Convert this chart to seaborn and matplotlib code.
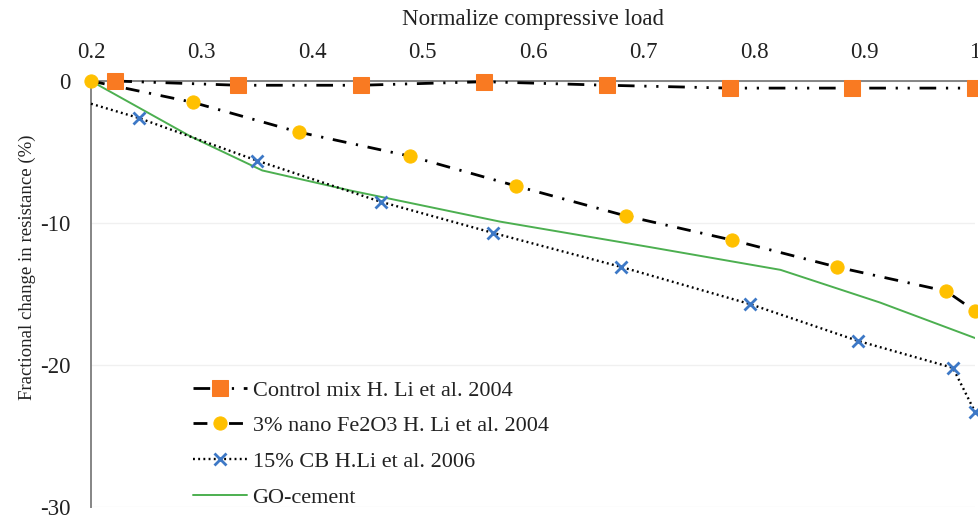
import matplotlib
matplotlib.use("Agg")
import matplotlib.pyplot as plt
import seaborn as sns

# Normalized compressive load vs. fractional change in resistance (%)
load_ctrl = [0.222, 0.333, 0.444, 0.556, 0.667, 0.778, 0.889, 1.0]
res_ctrl = [0.0, -0.3, -0.3, -0.05, -0.3, -0.5, -0.5, -0.5]

load_fe = [0.2, 0.292, 0.388, 0.489, 0.585, 0.684, 0.780, 0.875, 0.974, 1.0]
res_fe = [0.0, -1.5, -3.6, -5.3, -7.4, -9.5, -11.2, -13.1, -14.8, -16.2]

load_cb = [0.2, 0.243, 0.350, 0.462, 0.564, 0.680, 0.796, 0.894, 0.980, 1.0]
res_cb = [-1.6, -2.6, -5.6, -8.5, -10.7, -13.1, -15.7, -18.3, -20.2, -23.3]

load_go = [0.2, 0.290, 0.355, 0.434, 0.570, 0.706, 0.824, 0.914, 1.0]
res_go = [0.0, -3.9, -6.3, -7.7, -9.9, -11.7, -13.3, -15.6, -18.1]

labels = ["Control mix H. Li et al. 2004",
          "3% nano Fe2O3 H. Li et al. 2004",
          "15% CB H.Li et al. 2006",
          "GO-cement"]
x_ticks = [0.2, 0.3, 0.4, 0.5, 0.6, 0.7, 0.8, 0.9, 1.0]
x_ticklabels = ["0.2", "0.3", "0.4", "0.5", "0.6", "0.7", "0.8", "0.9", "1"]
y_ticks = [0, -10, -20, -30]

sns.set_theme(style="white")
plt.rcParams["font.family"] = ["Liberation Serif", "DejaVu Serif"]
plt.rcParams["axes.unicode_minus"] = False

fig = plt.figure(figsize=(9.79, 5.19), dpi=100)
ax = fig.add_axes([91 / 979, 12 / 519, 884 / 979, 426 / 519])

sns.lineplot(x=load_go, y=res_go, ax=ax, color="#4caf50", lw=1.4,
             label=labels[3], zorder=2)
sns.lineplot(x=load_cb, y=res_cb, ax=ax, color="black", lw=1.7,
             linestyle=(0, (0.8, 1.4)), marker="x", markersize=8,
             markeredgewidth=2, markeredgecolor="#3d78c6",
             markevery=list(range(1, len(load_cb))), label=labels[2],
             zorder=3, clip_on=False)
sns.lineplot(x=load_fe, y=res_fe, ax=ax, color="black", lw=2.0,
             linestyle=(0, (5, 3.5, 0.8, 3.5)), marker="o", markersize=9.5,
             markerfacecolor="#ffc000", markeredgecolor="#ffc000",
             label=labels[1], zorder=4, clip_on=False)
sns.lineplot(x=load_ctrl, y=res_ctrl, ax=ax, color="black", lw=2.0,
             linestyle=(0, (6, 3.5, 0.8, 3.5, 0.8, 3.5)), marker="s",
             markersize=11.5, markerfacecolor="#f97a22",
             markeredgecolor="#f97a22", label=labels[0], zorder=5,
             clip_on=False)

ax.set_xlim(0.2, 1.0)
ax.set_ylim(-30, 0)
ax.xaxis.tick_top()
ax.xaxis.set_label_position("top")
ax.set_xticks(x_ticks)
ax.set_xticklabels(x_ticklabels)
ax.set_yticks(y_ticks)
ax.tick_params(axis="x", length=0, pad=13, labelsize=16.5, colors="#222222")
ax.tick_params(axis="y", length=0, pad=15, labelsize=16.5, colors="#222222")

ax.set_xlabel("Normalize compressive load", fontsize=16.5, color="#222222",
              labelpad=12)
ax.set_ylabel("Fractional change in resistance (%)", fontsize=13.5,
              color="#222222")
ax.yaxis.set_label_coords(-0.062, 0.563)

ax.grid(axis="y", color="#f0f0f0", lw=1)
ax.grid(axis="x", visible=False)
for side in ["bottom", "right"]:
    ax.spines[side].set_visible(False)
for side in ["top", "left"]:
    ax.spines[side].set_color("#858585")
    ax.spines[side].set_linewidth(1.4)
    ax.spines[side].set_zorder(1)

handles, hl = ax.get_legend_handles_labels()
order = [hl.index(l) for l in labels]
leg = ax.legend([handles[i] for i in order], labels, loc="upper left",
                bbox_to_anchor=(0.1154, 0.298), frameon=False, fontsize=16,
                handlelength=2.43, handletextpad=0.25, labelspacing=0.68,
                borderaxespad=0, borderpad=0, numpoints=1)
for t in leg.get_texts():
    t.set_color("#222222")

fig.savefig("out.png", dpi=100)
